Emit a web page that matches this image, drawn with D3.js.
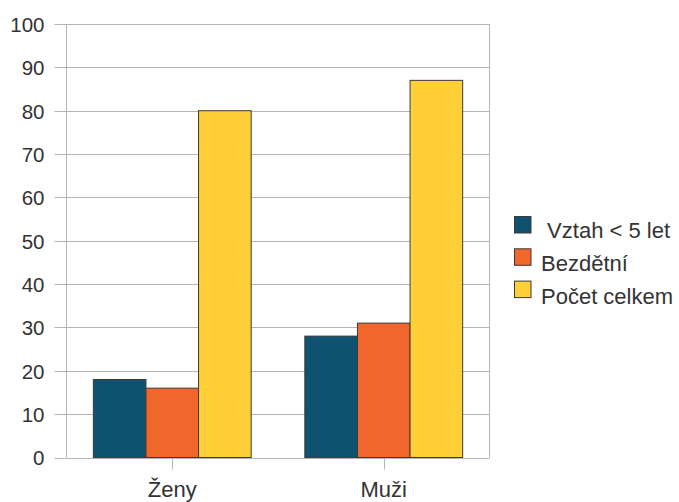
<!DOCTYPE html>
<html><head><meta charset="utf-8">
<script src="https://cdn.jsdelivr.net/npm/d3@7"></script>
<style>body{margin:0;background:#fff;}svg{display:block;font-family:"Liberation Sans",Arial,sans-serif;}</style>
</head><body><svg id="c" width="679" height="502"></svg>
<script>
const categories = ["Ženy", "Muži"];
const seriesNames = [" Vztah < 5 let", "Bezdětní", "Počet celkem"];
const vztah = [18, 28];
const bezdetni = [16, 31];
const celkem = [80, 87];
const yTicks = [0,10,20,30,40,50,60,70,80,90,100];
const colors = ["#0f5270", "#f1672b", "#fecf36"];

const series = [vztah, bezdetni, celkem];
const svg = d3.select("#c");
const L = 66.5, R = 489.5, T = 24, B = 457.5;
const x = d3.scaleBand().domain(categories).range([L, R]);
const xs = d3.scaleBand().domain(d3.range(3)).range([0, x.bandwidth()]).paddingOuter(0.51).paddingInner(0);
const y = d3.scaleLinear().domain([0, 100]).range([B, T]);
const grid = "#bbb3b1";

// gridlines + y tick marks
svg.append("g").selectAll("line").data(yTicks).join("line")
  .attr("x1", L - 12).attr("x2", R).attr("y1", d => Math.round(y(d)) + 0.5).attr("y2", d => Math.round(y(d)) + 0.5)
  .attr("stroke", grid).attr("stroke-width", 1);
// left axis & right border
svg.append("line").attr("x1", L).attr("x2", L).attr("y1", T).attr("y2", B).attr("stroke", grid);
svg.append("line").attr("x1", R).attr("x2", R).attr("y1", T).attr("y2", B).attr("stroke", grid);
// category ticks
svg.append("g").selectAll("line").data(categories).join("line")
  .attr("x1", d => Math.round(x(d) + x.bandwidth()/2) + 0.5).attr("x2", d => Math.round(x(d) + x.bandwidth()/2) + 0.5)
  .attr("y1", B).attr("y2", B + 12).attr("stroke", grid);

// bars
categories.forEach((c, ci) => {
  series.forEach((s, si) => {
    svg.append("rect")
      .attr("x", x(c) + xs(si)).attr("width", xs.bandwidth())
      .attr("y", y(s[ci])).attr("height", y(0) - y(s[ci]))
      .attr("fill", colors[si]).attr("stroke", "#3a3a3a").attr("stroke-width", 1);
  });
});

// y labels
svg.append("g").selectAll("text").data(yTicks).join("text")
  .attr("x", 44.5).attr("y", d => y(d) + 7.8).attr("text-anchor", "end")
  .attr("font-size", 20.5).attr("fill", "#333").text(d => d);
// x labels
svg.append("g").selectAll("text").data(categories).join("text")
  .attr("x", d => x(d) + x.bandwidth()/2).attr("y", 497).attr("text-anchor", "middle")
  .attr("font-size", 22).attr("fill", "#333").text(d => d);

// legend
const lg = svg.append("g");
seriesNames.forEach((n, i) => {
  const top = 216 + i * 32.3;
  lg.append("rect").attr("x", 514.5).attr("y", top + 0.5).attr("width", 16.5).attr("height", 16.5)
    .attr("fill", colors[i]).attr("stroke", "#3a3a3a");
  lg.append("text").attr("x", 541).attr("y", 237.5 + i * 33.2).attr("font-size", 22)
    .attr("fill", "#333").attr("xml:space", "preserve").style("white-space", "pre").text(n);
});
</script></body></html>
